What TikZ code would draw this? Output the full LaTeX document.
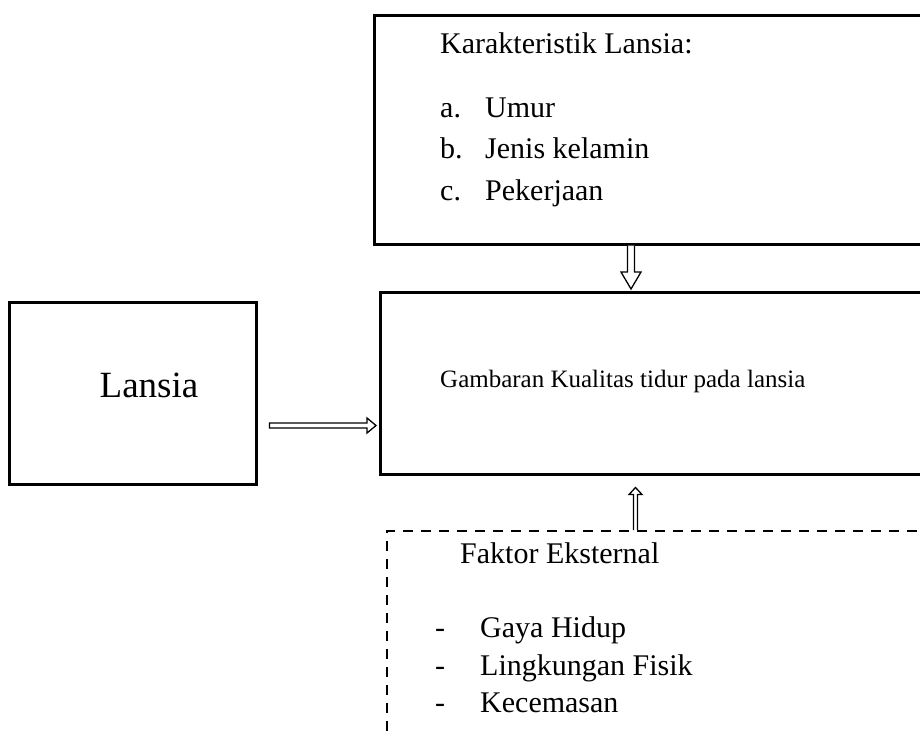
\documentclass[tikz,border=0pt]{standalone}
\usepackage{fontspec}
\setmainfont{Liberation Serif}
\usetikzlibrary{calc}
\begin{document}
\begin{tikzpicture}[x=1pt,y=-1pt,
  box/.style={draw,line width=2.5pt,rectangle,inner sep=0pt,anchor=north west},
  dbox/.style={draw,line width=2.2pt,dash pattern=on 10pt off 8pt,rectangle,inner sep=0pt,anchor=north west},
  txt/.style={inner sep=0pt,anchor=base west,font=\fontsize{30}{36}\selectfont},
  stxt/.style={inner sep=0pt,anchor=base west,font=\fontsize{25}{30}\selectfont},
  btxt/.style={inner sep=0pt,anchor=base,font=\fontsize{37}{44}\selectfont},
  blockarrow/.style={draw,line width=1.3pt,fill=white,line join=miter}]
\useasboundingbox (0,0) rectangle (920,734);
\clip (0,0) rectangle (920,734);
% boxes
\node[box,minimum width=627pt,minimum height=229pt] (top) at (373,14) {};
\node[box,minimum width=621pt,minimum height=182pt] (main) at (379,291) {};
\node[box,minimum width=247pt,minimum height=182pt] (lansia) at (8,301) {};
\node[dbox,minimum width=700pt,minimum height=300pt] (ext) at (386,530) {};
% texts top box
\node[txt] (k0) at (440,53) {Karakteristik Lansia:};
\node[txt] (k1a) at (440,117) {a.};
\node[txt] (k1) at (485,117) {Umur};
\node[txt] (k2a) at (440,158) {b.};
\node[txt] (k2) at (485,158) {Jenis kelamin};
\node[txt] (k3a) at (440,200) {c.};
\node[txt] (k3) at (485,200) {Pekerjaan};
% main
\node[stxt] (g) at (440,387) {Gambaran Kualitas tidur pada lansia};
% lansia
\node[btxt] (l) at (149,397) {Lansia};
% external
\node[txt] (e0) at (460,563) {Faktor Eksternal};
\node[txt] (e1a) at (435,637) {-};
\node[txt] (e1) at (480,637) {Gaya Hidup};
\node[txt] (e2a) at (435,675) {-};
\node[txt] (e2) at (480,675) {Lingkungan Fisik};
\node[txt] (e3a) at (435,712) {-};
\node[txt] (e3) at (480,712) {Kecemasan};
% down arrow
\coordinate (dA) at (631,0 |- top.south);
\coordinate (dB) at (631,0 |- main.north);
\draw[blockarrow] ($(dA)+(-3.5,0)$) -- ($(dB)+(-3.5,-19)$) -- ($(dB)+(-10,-19)$) -- ($(dB)+(0,-2)$) -- ($(dB)+(10,-19)$) -- ($(dB)+(3.5,-19)$) -- ($(dA)+(3.5,0)$);
% horizontal arrow
\coordinate (hA) at (lansia.east |- 0,425.5);
\coordinate (hB) at (main.west |- 0,425.5);
\draw[blockarrow] ($(hA)+(12,-2.5)$) -- ($(hB)+(-12,-2.5)$) -- ($(hB)+(-12,-7.5)$) -- ($(hB)+(-3,0)$) -- ($(hB)+(-12,7.5)$) -- ($(hB)+(-12,2.5)$) -- ($(hA)+(12,2.5)$) -- cycle;
% up arrow
\coordinate (uA) at (635.5,0 |- ext.north);
\coordinate (uB) at (635.5,0 |- main.south);
\draw[blockarrow] ($(uA)+(-2,0)$) -- ($(uB)+(-2,19)$) -- ($(uB)+(-6.5,19)$) -- ($(uB)+(0,12)$) -- ($(uB)+(6.5,19)$) -- ($(uB)+(2,19)$) -- ($(uA)+(2,0)$);
\end{tikzpicture}
\end{document}
